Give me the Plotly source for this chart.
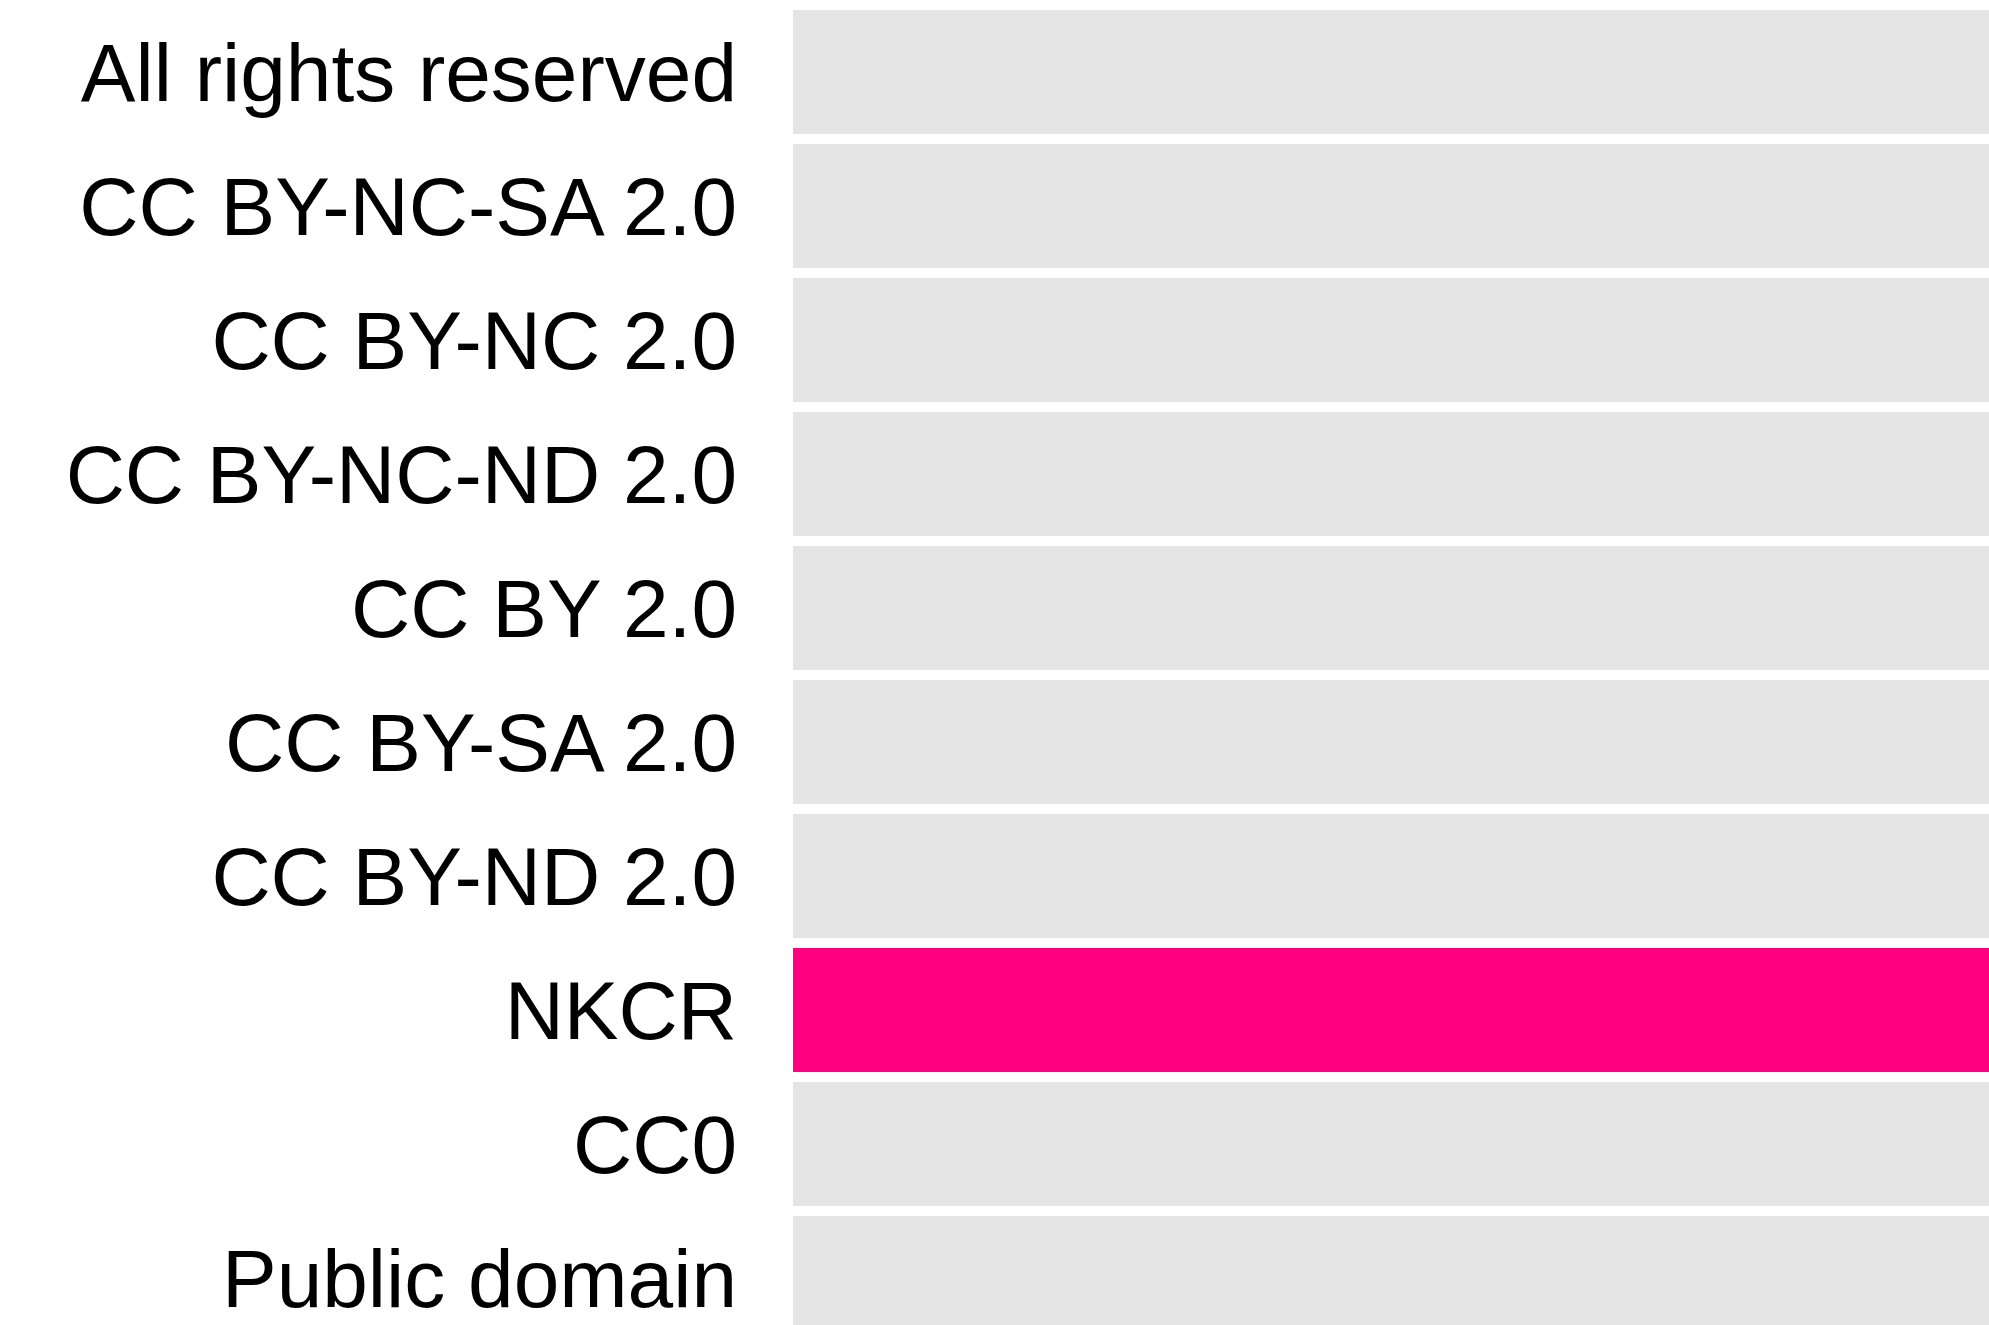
import plotly.graph_objects as go

licenses = [
    "All rights reserved",
    "CC BY-NC-SA 2.0",
    "CC BY-NC 2.0",
    "CC BY-NC-ND 2.0",
    "CC BY 2.0",
    "CC BY-SA 2.0",
    "CC BY-ND 2.0",
    "NKCR",
    "CC0",
    "Public domain",
]
values = [100, 100, 100, 100, 100, 100, 100, 100, 100, 100]
highlighted = "NKCR"

GREY = "#e5e5e5"
PINK = "#ff0080"
colors = [PINK if lab == highlighted else GREY for lab in licenses]

fig = go.Figure(
    go.Bar(
        x=values,
        y=licenses,
        orientation="h",
        marker=dict(color=colors, line=dict(width=0)),
        hoverinfo="x+y",
    )
)

fig.update_layout(
    width=1989,
    height=1325,
    margin=dict(l=793, r=0, t=0, b=0, autoexpand=False),
    paper_bgcolor="white",
    plot_bgcolor="white",
    bargap=0.075,
    showlegend=False,
    font=dict(family="Liberation Sans, Arial, sans-serif", size=82, color="#000000"),
)
fig.update_xaxes(
    range=[0, 100],
    showticklabels=False,
    showgrid=False,
    zeroline=False,
    showline=False,
    ticks="",
)
fig.update_yaxes(
    type="category",
    categoryorder="array",
    categoryarray=licenses,
    range=[9.351, -0.537],
    showgrid=False,
    zeroline=False,
    showline=False,
    ticks="",
    ticklabelstandoff=55,
    tickfont=dict(size=82, family="Liberation Sans, Arial, sans-serif", color="#000000"),
)

fig.write_html(
    "out.html",
    config={"displayModeBar": False},
    post_script="document.body.style.margin='0';document.body.style.overflow='hidden';",
)
